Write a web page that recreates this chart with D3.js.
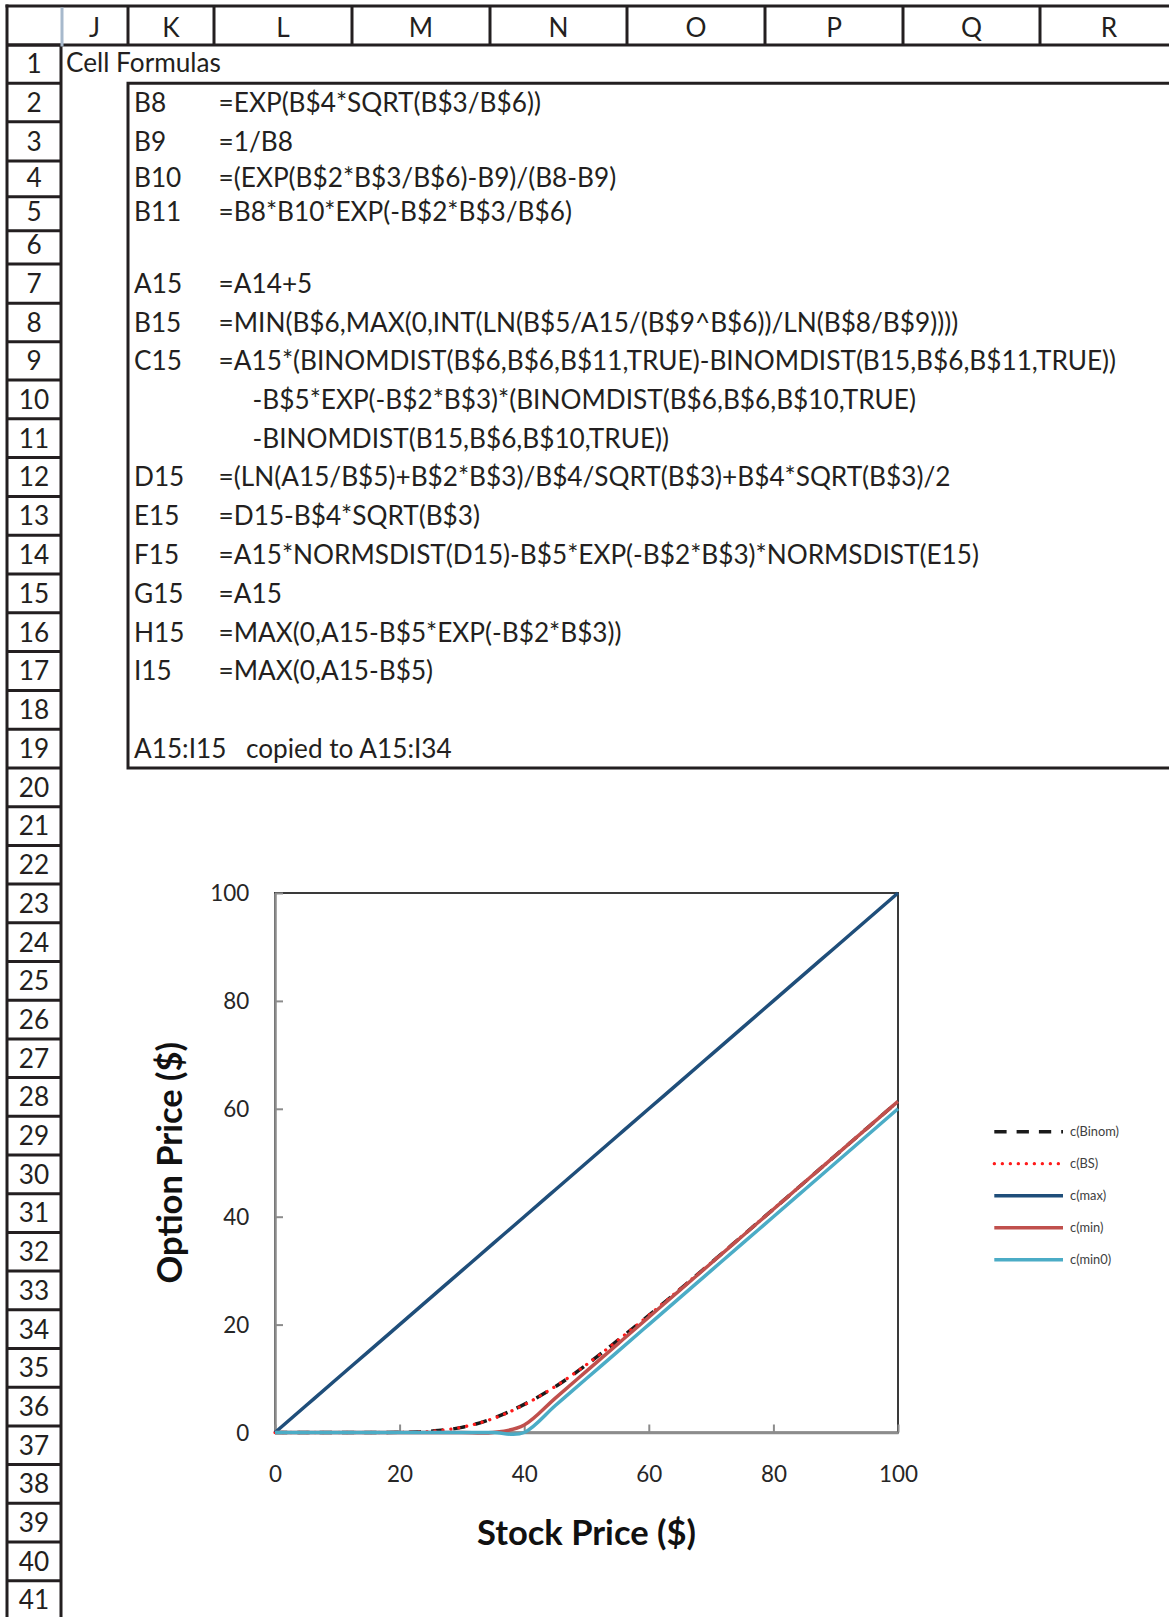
<!DOCTYPE html>
<html>
<head>
<meta charset="utf-8">
<script src="https://cdn.jsdelivr.net/npm/d3@7"></script>
<style>
  html, body { margin: 0; padding: 0; background: #fff; }
  svg { display: block; }
</style>
</head>
<body>
<svg id="sheet" width="1169" height="1617"></svg>
<script>
// ---- worksheet labels ----
const columnLetters = ["J", "K", "L", "M", "N", "O", "P", "Q", "R"];
const rowNumbers = d3.range(1, 42);

// [row, cell reference, formula text, continuation line]
const formulaLines = [
  [2, "B8", "=EXP(B$4*SQRT(B$3/B$6))", false],
  [3, "B9", "=1/B8", false],
  [4, "B10", "=(EXP(B$2*B$3/B$6)-B9)/(B8-B9)", false],
  [5, "B11", "=B8*B10*EXP(-B$2*B$3/B$6)", false],
  [7, "A15", "=A14+5", false],
  [8, "B15", "=MIN(B$6,MAX(0,INT(LN(B$5/A15/(B$9^B$6))/LN(B$8/B$9))))", false],
  [9, "C15", "=A15*(BINOMDIST(B$6,B$6,B$11,TRUE)-BINOMDIST(B15,B$6,B$11,TRUE))", false],
  [10, "", "-B$5*EXP(-B$2*B$3)*(BINOMDIST(B$6,B$6,B$10,TRUE)", true],
  [11, "", "-BINOMDIST(B15,B$6,B$10,TRUE))", true],
  [12, "D15", "=(LN(A15/B$5)+B$2*B$3)/B$4/SQRT(B$3)+B$4*SQRT(B$3)/2", false],
  [13, "E15", "=D15-B$4*SQRT(B$3)", false],
  [14, "F15", "=A15*NORMSDIST(D15)-B$5*EXP(-B$2*B$3)*NORMSDIST(E15)", false],
  [15, "G15", "=A15", false],
  [16, "H15", "=MAX(0,A15-B$5*EXP(-B$2*B$3))", false],
  [17, "I15", "=MAX(0,A15-B$5)", false]
];
const copyNoteRange = "A15:I15";
const copyNoteText = "copied to A15:I34";

// ---- option price series ----
const stockPrice = [0, 5, 10, 15, 20, 25, 30, 35, 40, 45, 50, 55, 60, 65, 70, 75, 80, 85, 90, 95, 100];
const cBinom = [0, 0, 0, 0, 0.03, 0.25, 0.95, 2.62, 5.21, 8.50, 12.55, 17.06, 21.70, 26.54, 31.46, 36.43, 41.40, 46.39, 51.38, 56.38, 61.38];
const cBS    = [0, 0, 0, 0, 0.03, 0.23, 0.98, 2.58, 5.14, 8.55, 12.58, 17.03, 21.72, 26.56, 31.47, 36.43, 41.40, 46.39, 51.38, 56.38, 61.38];
const cMax   = [0, 5, 10, 15, 20, 25, 30, 35, 40, 45, 50, 55, 60, 65, 70, 75, 80, 85, 90, 95, 100];
const cMin   = [0, 0, 0, 0, 0, 0, 0, 0, 1.38, 6.38, 11.38, 16.38, 21.38, 26.38, 31.38, 36.38, 41.38, 46.38, 51.38, 56.38, 61.38];
const cMin0  = [0, 0, 0, 0, 0, 0, 0, 0, 0, 5, 10, 15, 20, 25, 30, 35, 40, 45, 50, 55, 60];
const seriesNames = ["c(Binom)", "c(BS)", "c(max)", "c(min)", "c(min0)"];
const xTicks = [0, 20, 40, 60, 80, 100];
const yTicks = [0, 20, 40, 60, 80, 100];
const xTitle = "Stock Price ($)";
const yTitle = "Option Price ($)";

// ---- drawing ----
const W = 1169, H = 1617;
const FONT = "Lato, 'Noto Sans', 'DejaVu Sans', sans-serif";
const INK = "#231f20";
const svg = d3.select("#sheet");

function fitSize(text, weight, target) {
  const t = svg.append("text")
    .attr("font-family", FONT).attr("font-weight", weight)
    .attr("font-size", 100).text(text);
  const w = t.node().getComputedTextLength();
  t.remove();
  return 100 * target / w;
}

function draw() {
  // grid geometry
  const colEdges = [7, 61, 128, 214, 352, 490, 627, 765, 903, 1040, 1178];
  const headerTop = 6, headerBottom = 45;
  const rowHeights = [38.3, 38.4, 39.3, 35.7, 34, 33.3, 39.3, 38.4, 38.3]
    .concat(d3.range(10).map(() => 38.8))
    .concat(d3.range(22).map(() => 38.7));
  const rowEdges = [headerBottom];
  rowHeights.forEach(h => rowEdges.push(rowEdges[rowEdges.length - 1] + h));
  const rowBottom = r => rowEdges[r];
  const rowTop = r => rowEdges[r - 1];

  const cellSize = fitSize(formulaLines[6][2], 400, 898);
  const grid = svg.append("g").attr("stroke", INK).attr("stroke-width", 3).attr("fill", "none");

  // column header band
  grid.append("line").attr("x1", colEdges[0] - 1.5).attr("x2", W).attr("y1", headerTop).attr("y2", headerTop);
  grid.append("line").attr("x1", colEdges[0]).attr("x2", W).attr("y1", headerBottom).attr("y2", headerBottom);
  colEdges.slice(2).forEach(x => {
    grid.append("line").attr("x1", x).attr("x2", x).attr("y1", headerTop).attr("y2", headerBottom);
  });
  // corner cell highlight
  svg.append("line").attr("x1", colEdges[1] + 1).attr("x2", colEdges[1] + 1)
    .attr("y1", headerTop + 1.5).attr("y2", headerBottom + 1.5)
    .attr("stroke", "#a7b9cc").attr("stroke-width", 3);

  // row header band
  grid.append("line").attr("x1", colEdges[0]).attr("x2", colEdges[0]).attr("y1", headerTop - 1.5).attr("y2", H);
  grid.append("line").attr("x1", colEdges[1]).attr("x2", colEdges[1]).attr("y1", headerBottom).attr("y2", H);
  rowEdges.forEach(y => {
    grid.append("line").attr("x1", colEdges[0]).attr("x2", colEdges[1]).attr("y1", y).attr("y2", y);
  });

  // formula box, K2:R19 and beyond
  const boxLeft = colEdges[2], boxTop = rowTop(2), boxBottom = rowBottom(19);
  grid.append("path").attr("d", `M${W},${boxTop}H${boxLeft}V${boxBottom}H${W}`);

  const txt = svg.append("g").attr("font-family", FONT).attr("font-size", cellSize).attr("fill", INK);

  // column letters
  columnLetters.forEach((c, i) => {
    txt.append("text").attr("x", (colEdges[i + 1] + colEdges[i + 2]) / 2).attr("y", headerBottom - 8)
      .attr("text-anchor", "middle").text(c);
  });
  // row numbers
  rowNumbers.forEach(r => {
    txt.append("text").attr("x", (colEdges[0] + colEdges[1]) / 2).attr("y", rowBottom(r) - 10)
      .attr("text-anchor", "middle").text(r);
  });

  txt.append("text").attr("x", colEdges[1] + 5).attr("y", rowBottom(1) - 11).text("Cell Formulas");
  formulaLines.forEach(([r, ref, f, cont]) => {
    if (ref) txt.append("text").attr("x", colEdges[2] + 6).attr("y", rowBottom(r) - 10).text(ref);
    txt.append("text").attr("x", cont ? 252.6 : colEdges[3] + 4.6).attr("y", rowBottom(r) - 10).text(f);
  });
  txt.append("text").attr("x", colEdges[2] + 6).attr("y", rowBottom(19) - 10).text(copyNoteRange);
  txt.append("text").attr("x", 246).attr("y", rowBottom(19) - 10).text(copyNoteText);

  // ---- chart ----
  const x = d3.scaleLinear().domain([0, 100]).range([275, 898]);
  const y = d3.scaleLinear().domain([0, 100]).range([1432.5, 893]);
  const tickSize = fitSize("100", 400, 39);
  const titleSize = fitSize(xTitle, 700, 219);
  const legendSize = fitSize(seriesNames[0], 400, 49);

  const chart = svg.append("g");
  chart.append("rect").attr("x", x(0)).attr("y", y(100))
    .attr("width", x(100) - x(0)).attr("height", y(0) - y(100))
    .attr("fill", "#fff").attr("stroke", "#3a3a3a").attr("stroke-width", 2);

  const axisColor = "#8c8c8c";
  const gx = chart.append("g").attr("transform", `translate(0,${y(0)})`)
    .call(d3.axisBottom(x).tickValues(xTicks).tickSizeInner(-8).tickSizeOuter(0).tickFormat(d3.format("d")));
  gx.select(".domain").attr("stroke", axisColor).attr("stroke-width", 2.5);
  gx.selectAll(".tick line").attr("stroke", axisColor).attr("stroke-width", 2);
  gx.selectAll("text").attr("y", 41.5).attr("dy", "0.35em")
    .attr("font-family", FONT).attr("font-size", tickSize).attr("fill", "#262626");

  const gy = chart.append("g").attr("transform", `translate(${x(0)},0)`)
    .call(d3.axisLeft(y).tickValues(yTicks).tickSizeInner(-8).tickSizeOuter(0).tickFormat(d3.format("d")));
  gy.select(".domain").attr("stroke", axisColor).attr("stroke-width", 2.5);
  gy.selectAll(".tick line").attr("stroke", axisColor).attr("stroke-width", 2);
  gy.selectAll("text").attr("x", -25.7).attr("dy", "0.35em")
    .attr("font-family", FONT).attr("font-size", tickSize).attr("fill", "#262626");

  chart.append("text").attr("x", (x(0) + x(100)) / 2).attr("y", 1545)
    .attr("text-anchor", "middle").attr("font-family", FONT).attr("font-weight", 700)
    .attr("font-size", titleSize).attr("fill", "#111").text(xTitle);
  chart.append("text").attr("transform", `translate(${170 + titleSize * 0.36},${(y(0) + y(100)) / 2}) rotate(-90)`)
    .attr("text-anchor", "middle").attr("font-family", FONT).attr("font-weight", 700)
    .attr("font-size", titleSize).attr("fill", "#111").text(yTitle);

  const styles = [
    { color: "#1a1a1a", width: 3.5, dash: "12.3,10", cap: "butt" },
    { color: "#ff1a1a", width: 3.3, dash: "0.1,7.9", cap: "round" },
    { color: "#1f4e7a", width: 3.5, dash: null, cap: "butt" },
    { color: "#c0504d", width: 3.5, dash: null, cap: "butt" },
    { color: "#4bacc6", width: 3.5, dash: null, cap: "butt" }
  ];
  const seriesValues = [cBinom, cBS, cMax, cMin, cMin0];

  const line = d3.line()
    .x(d => x(d[0])).y(d => y(d[1]))
    .curve(d3.curveCardinal.tension(0));

  seriesValues.forEach((vals, i) => {
    const s = styles[i];
    chart.append("path")
      .datum(stockPrice.map((p, k) => [p, vals[k]]))
      .attr("d", line)
      .attr("fill", "none")
      .attr("stroke", s.color)
      .attr("stroke-width", s.width)
      .attr("stroke-dasharray", s.dash)
      .attr("stroke-linecap", s.cap)
      .attr("stroke-linejoin", "round");
  });

  // legend
  const legend = chart.append("g");
  seriesNames.forEach((name, i) => {
    const s = styles[i];
    const ly = 1131.7 + i * 32;
    legend.append("line").attr("x1", 994.3).attr("x2", 1063).attr("y1", ly).attr("y2", ly)
      .attr("stroke", s.color).attr("stroke-width", s.width)
      .attr("stroke-dasharray", s.dash).attr("stroke-linecap", s.cap);
    legend.append("text").attr("x", 1070).attr("y", ly).attr("dy", "0.35em")
      .attr("font-family", FONT).attr("font-size", legendSize).attr("fill", "#404040").text(name);
  });
}

(document.fonts && document.fonts.ready ? document.fonts.ready : Promise.resolve()).then(draw);
</script>
</body>
</html>
